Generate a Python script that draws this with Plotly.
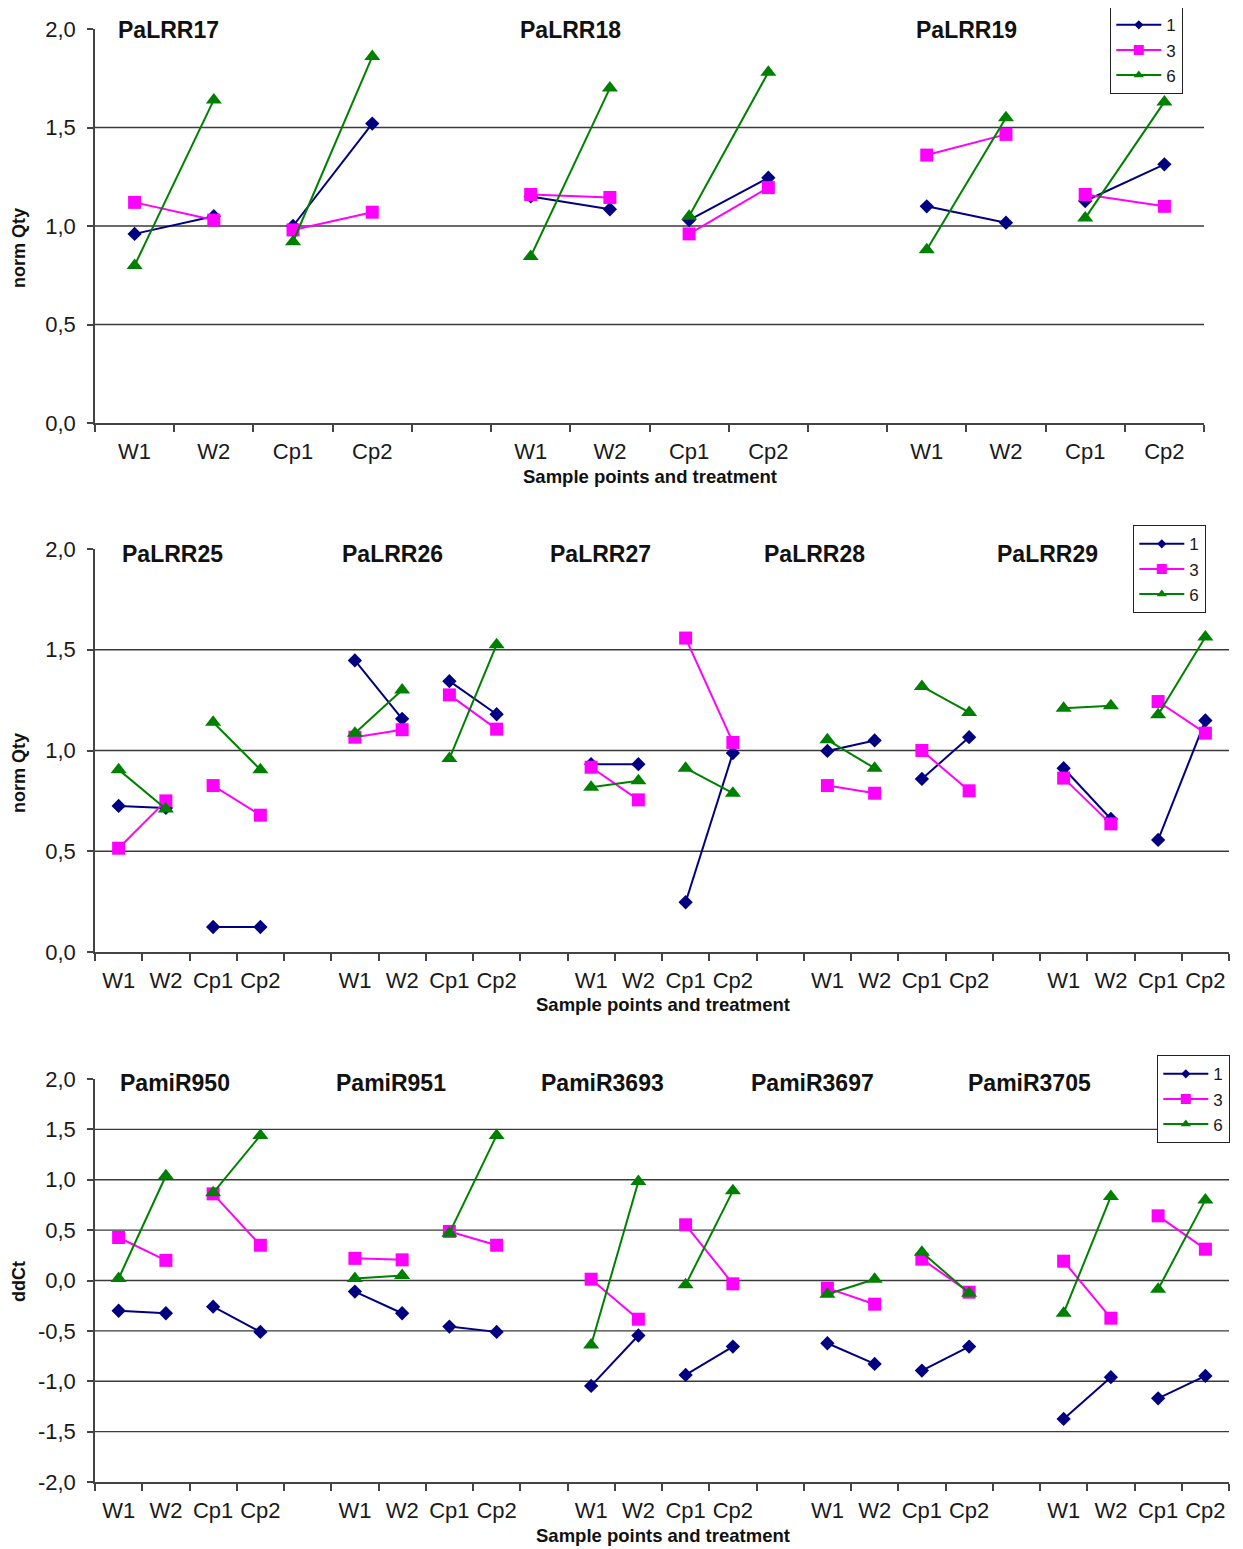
import plotly.graph_objects as go

W, H = 1243, 1549
OFF = 8  # page body margin of the html page
FONT = "Liberation Sans, Arial, sans-serif"

# ---------------- data ----------------
samples = ["W1", "W2", "Cp1", "Cp2"]
series_names = ["1", "3", "6"]
series_colors = ["#000080", "#FF00FF", "#008000"]
series_symbols = ["diamond", "square", "triangle-up"]
series_sizes = [11, 13, 14]
legend_sizes = [7, 10, 9]

p1_genes = ["PaLRR17", "PaLRR18", "PaLRR19"]
p1_s1 = [[0.96, 1.05, 1.00, 1.52], [1.15, 1.085, 1.03, 1.245], [1.10, 1.017, 1.127, 1.313]]
p1_s3 = [[1.12, 1.03, 0.98, 1.07], [1.16, 1.145, 0.96, 1.195], [1.36, 1.465, 1.16, 1.10]]
p1_s6 = [[0.80, 1.64, 0.92, 1.86], [0.845, 1.70, 1.05, 1.78], [0.88, 1.55, 1.04, 1.63]]

p2_genes = ["PaLRR25", "PaLRR26", "PaLRR27", "PaLRR28", "PaLRR29"]
p2_s1 = [[0.725, 0.715, 0.124, 0.124], [1.447, 1.157, 1.344, 1.18], [0.932, 0.932, 0.247, 0.987],
         [0.998, 1.05, 0.859, 1.066], [0.912, 0.66, 0.556, 1.149]]
p2_s3 = [[0.515, 0.75, 0.826, 0.679], [1.066, 1.103, 1.276, 1.106], [0.917, 0.755, 1.558, 1.04],
         [0.826, 0.788, 1.0, 0.80], [0.863, 0.636, 1.243, 1.086]]
p2_s6 = [[0.905, 0.71, 1.14, 0.905], [1.086, 1.30, 0.96, 1.525], [0.818, 0.85, 0.912, 0.788],
         [1.053, 0.912, 1.318, 1.189], [1.21, 1.222, 1.177, 1.563]]

p3_genes = ["PamiR950", "PamiR951", "PamiR3693", "PamiR3697", "PamiR3705"]
p3_s1 = [[-0.30, -0.325, -0.26, -0.51], [-0.11, -0.325, -0.457, -0.51], [-1.046, -0.546, -0.937, -0.656],
         [-0.623, -0.828, -0.894, -0.656], [-1.374, -0.96, -1.169, -0.947]]
p3_s3 = [[0.427, 0.20, 0.86, 0.35], [0.22, 0.205, 0.487, 0.35], [0.013, -0.384, 0.553, -0.033],
         [-0.076, -0.235, 0.212, -0.116], [0.192, -0.374, 0.642, 0.311]]
p3_s6 = [[0.02, 1.04, 0.87, 1.44], [0.02, 0.05, 0.47, 1.44], [-0.64, 0.983, -0.043, 0.89],
         [-0.136, 0.013, 0.281, -0.126], [-0.325, 0.834, -0.086, 0.80]]

y12_ticks = [0.0, 0.5, 1.0, 1.5, 2.0]
y12_ticktext = ["0,0", "0,5", "1,0", "1,5", "2,0"]
y12_grid = [0.5, 1.0, 1.5]
y3_ticks = [-2.0, -1.5, -1.0, -0.5, 0.0, 0.5, 1.0, 1.5, 2.0]
y3_ticktext = ["-2,0", "-1,5", "-1,0", "-0,5", "0,0", "0,5", "1,0", "1,5", "2,0"]
y3_grid = [-1.5, -1.0, -0.5, 0.0, 0.5, 1.0, 1.5]

x_title = "Sample points and treatment"

# ---------------- layout geometry (pixels, as seen on the page) ----------------
panels = [
    dict(genes=p1_genes, series=[p1_s1, p1_s3, p1_s6], x0=95, x1=1204, ytop=29, ybot=423,
         yrange=[0, 2], yticks=y12_ticks, ytext=y12_ticktext, grid=y12_grid, ytitle="norm Qty",
         title_px=[116, 518, 914], title_y=30, xtitle_y=476, xtitle_x=650, ytitle_y=248,
         legend_xy=(1110, 6)),
    dict(genes=p2_genes, series=[p2_s1, p2_s3, p2_s6], x0=95, x1=1229, ytop=549, ybot=952,
         yrange=[0, 2], yticks=y12_ticks, ytext=y12_ticktext, grid=y12_grid, ytitle="norm Qty",
         title_px=[120, 340, 548, 762, 995], title_y=554, xtitle_x=663, xtitle_y=1005, ytitle_y=773,
         legend_xy=(1133, 525)),
    dict(genes=p3_genes, series=[p3_s1, p3_s3, p3_s6], x0=95, x1=1229, ytop=1079, ybot=1482,
         yrange=[-2, 2], yticks=y3_ticks, ytext=y3_ticktext, grid=y3_grid, ytitle="ddCt",
         title_px=[118, 334, 539, 749, 966], title_y=1083, xtitle_x=663, xtitle_y=1535, ytitle_y=1282,
         legend_xy=(1157, 1055)),
]


def px(v):
    return (v - OFF) / W


def py(v):
    return 1 - (v - OFF) / H


fig = go.Figure()
layout = dict(width=W, height=H, margin=dict(l=0, r=0, t=0, b=0, autoexpand=False),
              paper_bgcolor="white", plot_bgcolor="white", showlegend=True,
              font=dict(family=FONT, color="#1a1a1a"))
shapes, annotations = [], []
legend_keys = ["legend", "legend2", "legend3"]

for pi, p in enumerate(panels):
    n = len(p["genes"])
    nslots = n * 5 - 1
    sfx = "" if pi == 0 else str(pi + 1)
    xa, ya = "x" + sfx, "y" + sfx
    centers, labels = [], []
    for g in range(n):
        for s, lab in enumerate(samples):
            centers.append(g * 5 + s + 0.5)
            labels.append(lab)
    for si, sdata in enumerate(p["series"]):
        xs, ys = [], []
        for g in range(n):
            for pair in ((0, 1), (2, 3)):
                for s in pair:
                    xs.append(g * 5 + s + 0.5)
                    ys.append(sdata[g][s])
                xs.append(None)
                ys.append(None)
        fig.add_trace(go.Scatter(
            x=xs, y=ys, mode="lines+markers", name=series_names[si],
            line=dict(color=series_colors[si], width=2),
            marker=dict(symbol=series_symbols[si], size=series_sizes[si], color=series_colors[si],
                        line=dict(width=0)),
            xaxis=xa, yaxis=ya, showlegend=False, connectgaps=False, hoverinfo="skip"))
    # legend entries (smaller symbols, as in the original legend)
    for si in range(len(series_names)):
        fig.add_trace(go.Scatter(
            x=[None], y=[None], mode="lines+markers", name=series_names[si],
            line=dict(color=series_colors[si], width=2),
            marker=dict(symbol=series_symbols[si], size=legend_sizes[si], color=series_colors[si],
                        line=dict(width=0)),
            xaxis=xa, yaxis=ya, legend=legend_keys[pi], showlegend=True, hoverinfo="skip"))
    xdom = [px(p["x0"]), px(p["x1"])]
    ydom = [py(p["ybot"]), py(p["ytop"])]
    layout["xaxis" + sfx] = dict(
        domain=xdom, anchor=ya, range=[0, nslots], tickmode="array", tickvals=centers, ticktext=labels,
        ticks="outside", ticklen=8, tickcolor="rgba(0,0,0,0)",
        minor=dict(tickmode="linear", tick0=0, dtick=1, ticks="outside", ticklen=7, tickcolor="#444",
                   tickwidth=1.5, showgrid=False),
        showline=True, linecolor="#444", linewidth=1.5, showgrid=False, zeroline=False,
        tickfont=dict(size=22, color="#1a1a1a", family=FONT), fixedrange=True, automargin=False)
    layout["yaxis" + sfx] = dict(
        domain=ydom, anchor=xa, range=p["yrange"], tickmode="array", tickvals=p["yticks"],
        ticktext=p["ytext"], ticks="outside", ticklen=6, tickcolor="#444", tickwidth=1.5,
        showline=True, linecolor="#444", linewidth=1.5, showgrid=False, zeroline=False,
        tickfont=dict(size=22, color="#1a1a1a", family=FONT), ticklabelstandoff=7, fixedrange=True,
        automargin=False)
    for v in p["grid"]:
        shapes.append(dict(type="line", xref=xa + " domain", yref=ya, x0=0, x1=1, y0=v, y1=v,
                           line=dict(color="#3a3a3a", width=1.4), layer="below"))
    for gname, gx in zip(p["genes"], p["title_px"]):
        annotations.append(dict(text="<b>%s</b>" % gname, x=px(gx), y=py(p["title_y"]),
                                xref="paper", yref="paper", xanchor="left", yanchor="middle",
                                showarrow=False, font=dict(size=23, color="#111", family=FONT)))
    annotations.append(dict(text="<b>%s</b>" % x_title, x=px(p["xtitle_x"]), y=py(p["xtitle_y"]),
                            xref="paper", yref="paper", xanchor="center", yanchor="middle",
                            showarrow=False, font=dict(size=18.5, color="#111", family=FONT)))
    annotations.append(dict(text="<b>%s</b>" % p["ytitle"], x=px(19), y=py(p["ytitle_y"]),
                            xref="paper", yref="paper", xanchor="center", yanchor="middle",
                            textangle=-90, showarrow=False, font=dict(size=18, color="#111", family=FONT)))
    lx, ly = p["legend_xy"]
    layout[legend_keys[pi]] = dict(
        x=px(lx), y=py(ly), xanchor="left", yanchor="top", xref="paper", yref="paper",
        bgcolor="white", bordercolor="#222", borderwidth=1.3,
        font=dict(size=17, color="#1a1a1a", family=FONT), tracegroupgap=0, itemwidth=45)

layout["shapes"] = shapes
layout["annotations"] = annotations
fig.update_layout(**layout)
fig.write_html("out.html")
